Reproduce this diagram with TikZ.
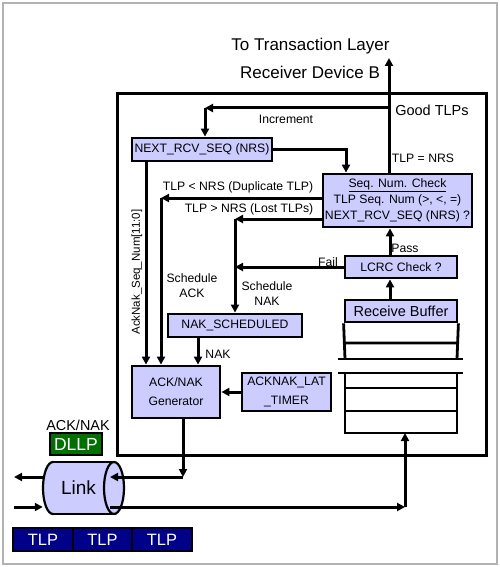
\documentclass[tikz,border=0pt]{standalone}
\usepackage{fontspec}
\setmainfont{Liberation Sans}
\usetikzlibrary{arrows.meta,calc}
\definecolor{lav}{RGB}{204,204,255}
\definecolor{dgreen}{RGB}{0,112,0}
\definecolor{navyb}{RGB}{0,0,136}
\newcommand{\fsz}[2]{\fontsize{#1}{#2}\selectfont}
\begin{document}
\begin{tikzpicture}[x=1pt,y=-1pt,
  ln/.style={line width=2.8pt},
  thinln/.style={line width=2.2pt},
  arr/.style={line width=3pt,-{Triangle[length=8pt,width=8pt]}},
  bx/.style={draw,line width=2.8pt,fill=lav,inner sep=0pt,font=\fsz{12.2}{16}},
  lbl/.style={inner sep=0pt,font=\fsz{12.2}{15}},
  tlpbox/.style={draw,line width=2.2pt,fill=navyb,text=white,inner sep=0pt,minimum height=23pt,font=\fsz{16.4}{18}},
]
\useasboundingbox (0,0) rectangle (500,567);
\draw[gray!60,line width=1.2pt] (3,3) rectangle (497,564);

% titles
\node[lbl,font=\fsz{17}{20}] (t1) at (310.5,46) {To Transaction Layer};
\node[lbl,font=\fsz{17}{20}] (t2) at (310,72) {Receiver Device B};

% main box
\node[draw,line width=3pt,minimum width=369pt,minimum height=361pt,inner sep=0pt] (main) at (301.5,274.5) {};

% boxes
\node[bx,minimum width=140pt,minimum height=23pt] (nrs) at (202,149.5) {NEXT\_RCV\_SEQ (NRS)};
\node[bx,minimum width=149pt,minimum height=53pt,align=center] (seq) at (397.5,200.5)
  {\underline{Seq. Num. Check}\\TLP Seq. Num (>, <, =)\\NEXT\_RCV\_SEQ (NRS) ?};
\node[bx,minimum width=112pt,minimum height=22pt] (lcrc) at (401,267) {LCRC Check ?};
\node[bx,minimum width=112pt,minimum height=22pt,font=\fsz{14.5}{17}] (rb) at (401,311) {Receive Buffer};
\node[bx,minimum width=134pt,minimum height=23pt] (naks) at (235,325.5) {NAK\_SCHEDULED};
\node[bx,minimum width=88pt,minimum height=52pt,align=center,font=\fsz{12.2}{19}] (gen) at (176,392) {ACK/NAK\\Generator};
\node[bx,minimum width=89pt,minimum height=38pt,align=center,font=\fsz{12.2}{19}] (timer) at (286.5,392) {ACKNAK\_LAT\\\_TIMER};

% receive buffer slots
\draw[ln] (rb.south west) -- (345,359) (rb.south east) -- (457,359) (345,343) -- (457,343);
\draw[thinln] (338,359) -- (463,359) (338,373) -- (463,373);
\draw[ln] (345,373) -- (345,433) -- (457,433) -- (457,373) (345,388) -- (457,388) (345,411) -- (457,411);
\coordinate (rbb) at (401,433);

% DLLP and TLPs
\node[lbl,font=\fsz{14.4}{17}] (acknak) at (78,425) {ACK/NAK};
\node[draw,line width=2.2pt,fill=dgreen,text=white,inner sep=0pt,minimum width=52pt,minimum height=22pt,font=\fsz{17.5}{20}] (dllp) at (76,444) {DLLP};
\node[tlpbox,minimum width=60pt] (tlp1) at (43,539.5) {TLP};
\node[tlpbox,minimum width=59pt] (tlp2) at (102.5,539.5) {TLP};
\node[tlpbox,minimum width=60pt] (tlp3) at (162,539.5) {TLP};

% link cylinder
\fill[lav] (53,462) rectangle (114,514);
\fill[lav] (53,488) ellipse [x radius=10, y radius=26];
\fill[lav] (114,488) ellipse [x radius=10, y radius=26];
\draw[thinln] (53,462) -- (114,462) (53,514) -- (114,514);
\draw[thinln] (114,488) ellipse [x radius=10, y radius=26];
\begin{scope}
  \clip (30,455) rectangle (53,520);
  \draw[thinln] (53,488) ellipse [x radius=10, y radius=26];
\end{scope}
\node[inner sep=0pt,minimum width=71pt,minimum height=52pt,font=\fsz{19}{22}] (link) at (78.5,488) {Link};

% labels
\node[lbl,font=\fsz{14.5}{17}] (good) at (432,110) {Good TLPs};
\node[lbl] (inc) at (286,119) {Increment};
\node[lbl] (eq) at (423,158) {TLP = NRS};
\node[lbl] (dup) at (238,187) {TLP < NRS (Duplicate TLP)};
\node[lbl] (lost) at (249,209) {TLP > NRS (Lost TLPs)};
\node[lbl] (fail) at (328,262) {Fail};
\node[lbl] (pass) at (405,248) {Pass};
\node[lbl,align=center] (sack) at (192,285.5) {Schedule\\ACK};
\node[lbl,align=center] (snak) at (267,293.5) {Schedule\\NAK};
\node[lbl] (nakl) at (218,354) {NAK};
\node[lbl,rotate=90,font=\fsz{11.5}{14}] (seqnum) at (137,272) {AckNak\_Seq\_Num[11:0]};

% connectors
\coordinate (top) at (389,58);
\coordinate (gt) at (389,108);
\coordinate (gtc) at (205,108);
\draw[arr] (seq.north -| top) -- (top);
\draw[arr] (gt) -- (gtc);
\draw[arr] (gtc) -- (gtc |- nrs.north);
\coordinate (nrsx) at (346,148);
\draw[arr] (nrs.east) -| (nrsx |- seq.north);
\coordinate (dupc) at (161,198);
\draw[arr] (seq.west |- dupc) -- (dupc);
\draw[arr] (dupc) -- (dupc |- gen.north);
\coordinate (lostc) at (235,219);
\draw[arr] (seq.west |- lostc) -- (lostc);
\draw[arr] (lostc) -- (naks.north);
\draw[arr] (lcrc.west) -- (lcrc.west -| lostc);
\coordinate (px) at (390,240);
\draw[arr] (lcrc.north -| px) -- (seq.south -| px);
\draw[arr] (rb.north -| px) -- (lcrc.south -| px);
\coordinate (ax) at (146,200);
\draw[arr] (nrs.south -| ax) -- (gen.north -| ax);
\coordinate (nx) at (198,340);
\draw[arr] (naks.south -| nx) -- (gen.north -| nx);
\draw[arr] (timer.west) -- (gen.east |- timer.west);
\coordinate (gc) at (183,477);
\coordinate (lin) at (110,477);
\draw[arr] (gen.south -| gc) -- (gc);
\draw[arr] (gc) -- (lin);
\coordinate (lo) at (14,477);
\draw[arr] (link.west |- lo) -- (lo);
\coordinate (li) at (14,507);
\draw[arr] (li) -- (link.west |- li);
\coordinate (lr) at (110,507);
\coordinate (bc) at (405,507);
\draw[arr] (lr) -- (bc);
\draw[arr] (bc) -- (bc |- rbb);
\end{tikzpicture}
\end{document}
